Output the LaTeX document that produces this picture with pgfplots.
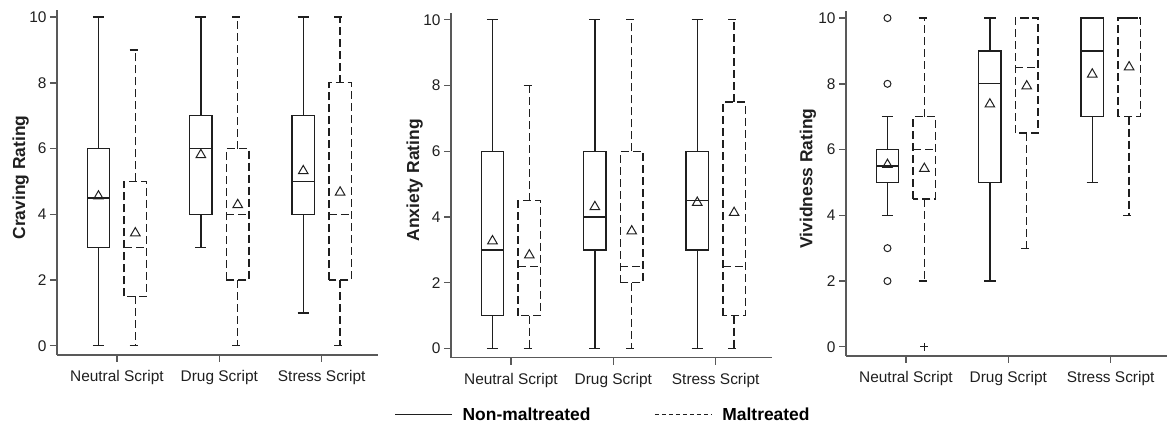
\documentclass[border=0pt]{standalone}
\usepackage{fontspec}
\setmainfont{Liberation Sans}
\usepackage{pgfplots}
\pgfplotsset{compat=1.18}
\usepgfplotslibrary{statistics}

\definecolor{ink}{gray}{0.12}
\definecolor{axisgray}{gray}{0.35}

\pgfplotsset{
  panel/.style={
    scale only axis, width=321bp, height=344.5bp, anchor=south west,
    xmin=0.415, xmax=3.55, ymin=-0.28, ymax=10.2,
    axis x line=bottom, axis y line=left,
    axis line style={-, draw=axisgray, line width=1.4bp},
    xtick={1,2,3}, xticklabels={Neutral Script, Drug Script, Stress Script},
    ytick={0,2,...,10},
    tick align=outside, major tick length=7bp,
    tick style={draw=axisgray, line width=1.4bp},
    ticklabel style={font=\fontsize{15.5}{18}\selectfont, text=ink},
    xticklabel style={yshift=-5bp},
    /pgf/number format/assume math mode=true,
    every axis y label/.style={at={(axis description cs:-0.113,0.515)}, rotate=90, anchor=center,
      font=\bfseries\fontsize{17.5}{20}\selectfont, text=ink},
    boxplot/draw direction=y,
    boxplot/box extend=0.22, boxplot/whisker extend=0.11,
    clip=false,
  },
  nm/.style={draw=ink, line width=1.3bp, solid},
  mt/.style={draw=ink, line width=1.3bp, dash pattern=on 8bp off 4bp},
  avg/.style={only marks, mark=triangle, mark size=5.5bp, draw=ink, line width=1bp, mark options={solid}},
}

\begin{document}
\begin{tikzpicture}
\useasboundingbox (0,0) rectangle (1167bp,431bp);

% ---- Craving
\begin{axis}[panel, at={(57bp,76bp)}, ylabel={Craving Rating}]
\addplot[nm, boxplot prepared={draw position=0.82, lower whisker=0, lower quartile=3, median=4.5, upper quartile=6, upper whisker=10}] coordinates {};
\addplot[mt, boxplot prepared={draw position=1.18, lower whisker=0, lower quartile=1.5, median=3, upper quartile=5, upper whisker=9}] coordinates {};
\addplot[nm, boxplot prepared={draw position=1.82, lower whisker=3, lower quartile=4, median=6, upper quartile=7, upper whisker=10}] coordinates {};
\addplot[mt, boxplot prepared={draw position=2.18, lower whisker=0, lower quartile=2, median=4, upper quartile=6, upper whisker=10}] coordinates {};
\addplot[nm, boxplot prepared={draw position=2.82, lower whisker=1, lower quartile=4, median=5, upper quartile=7, upper whisker=10}] coordinates {};
\addplot[mt, boxplot prepared={draw position=3.18, lower whisker=0, lower quartile=2, median=4, upper quartile=8, upper whisker=10}] coordinates {};
\addplot[avg] coordinates {(0.82,4.55) (1.18,3.43) (1.82,5.81) (2.18,4.29) (2.82,5.32) (3.18,4.67)};
\end{axis}

% ---- Anxiety (carries the legend)
\begin{axis}[panel, at={(451bp,73.3bp)}, ylabel={Anxiety Rating},
  legend columns=2,
  legend style={draw=none, fill=none, at={(axis description cs:0.474,-0.166)}, anchor=center,
    font=\bfseries\fontsize{17.5}{20}\selectfont, text=black,
    /tikz/every odd column/.append style={column sep=8bp},
    /tikz/every even column/.append style={column sep=62bp}},
  legend image code/.code={\draw[#1] (0bp,0bp) -- (57bp,0bp);},
]
\addlegendimage{draw=ink, line width=0.9bp, solid}
\addlegendentry{Non-maltreated}
\addlegendimage{draw=ink, line width=0.9bp, dash pattern=on 4bp off 3bp}
\addlegendentry{Maltreated}
\addplot[nm, boxplot prepared={draw position=0.82, lower whisker=0, lower quartile=1, median=3, upper quartile=6, upper whisker=10}] coordinates {};
\addplot[mt, boxplot prepared={draw position=1.18, lower whisker=0, lower quartile=1, median=2.5, upper quartile=4.5, upper whisker=8}] coordinates {};
\addplot[nm, boxplot prepared={draw position=1.82, lower whisker=0, lower quartile=3, median=4, upper quartile=6, upper whisker=10}] coordinates {};
\addplot[mt, boxplot prepared={draw position=2.18, lower whisker=0, lower quartile=2, median=2.5, upper quartile=6, upper whisker=10}] coordinates {};
\addplot[nm, boxplot prepared={draw position=2.82, lower whisker=0, lower quartile=3, median=4.5, upper quartile=6, upper whisker=10}] coordinates {};
\addplot[mt, boxplot prepared={draw position=3.18, lower whisker=0, lower quartile=1, median=2.5, upper quartile=7.5, upper whisker=10}] coordinates {};
\addplot[avg] coordinates {(0.82,3.27) (1.18,2.84) (1.82,4.31) (2.18,3.57) (2.82,4.44) (3.18,4.13)};
\end{axis}

% ---- Vividness
\begin{axis}[panel, at={(846bp,75bp)}, ylabel={Vividness Rating},
  every axis y label/.append style={at={(axis description cs:-0.119,0.515)}}]
\addplot[nm, mark=o, mark size=3.5bp, mark options={solid, line width=1bp},
  boxplot prepared={draw position=0.82, lower whisker=4, lower quartile=5, median=5.5, upper quartile=6, upper whisker=7}]
  coordinates {(0,10) (0,8) (0,3) (0,2)};
\addplot[mt, mark=+, mark size=4bp, mark options={solid, line width=1bp},
  boxplot prepared={draw position=1.18, lower whisker=2, lower quartile=4.5, median=6, upper quartile=7, upper whisker=10}]
  coordinates {(0,0)};
\addplot[nm, boxplot prepared={draw position=1.82, lower whisker=2, lower quartile=5, median=8, upper quartile=9, upper whisker=10}] coordinates {};
\addplot[mt, boxplot prepared={draw position=2.18, lower whisker=3, lower quartile=6.5, median=8.5, upper quartile=10, upper whisker=10}] coordinates {};
\addplot[nm, boxplot prepared={draw position=2.82, lower whisker=5, lower quartile=7, median=9, upper quartile=10, upper whisker=10}] coordinates {};
\addplot[mt, boxplot prepared={draw position=3.18, lower whisker=4, lower quartile=7, median=10, upper quartile=10, upper whisker=10}] coordinates {};
\addplot[avg] coordinates {(0.82,5.54) (1.18,5.42) (1.82,7.38) (2.18,7.93) (2.82,8.29) (3.18,8.51)};
\end{axis}
\end{tikzpicture}
\end{document}
